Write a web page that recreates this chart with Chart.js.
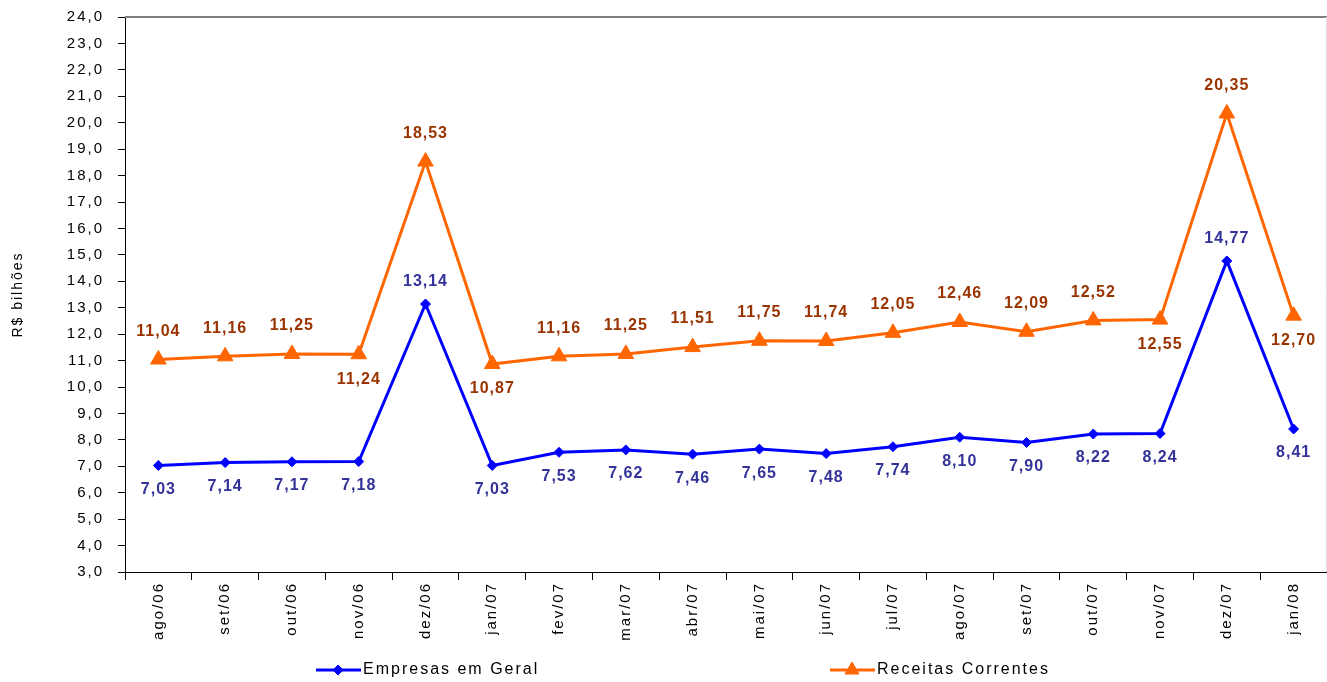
<!DOCTYPE html>
<html>
<head>
<meta charset="utf-8">
<script src="https://cdn.jsdelivr.net/npm/chart.js@4/dist/chart.umd.min.js"></script>
<style>
  html, body { margin: 0; padding: 0; background: #fff; }
  #wrap { width: 1327px; height: 682px; position: relative; }
</style>
</head>
<body>
<div id="wrap"><canvas id="c"></canvas></div>
<script>
// Monthly revenue series, R$ bilhões
const meses = ['ago/06','set/06','out/06','nov/06','dez/06','jan/07','fev/07','mar/07','abr/07','mai/07','jun/07','jul/07','ago/07','set/07','out/07','nov/07','dez/07','jan/08'];
const empresasEmGeral = [7.03, 7.14, 7.17, 7.18, 13.14, 7.03, 7.53, 7.62, 7.46, 7.65, 7.48, 7.74, 8.10, 7.90, 8.22, 8.24, 14.77, 8.41];
const receitasCorrentes = [11.04, 11.16, 11.25, 11.24, 18.53, 10.87, 11.16, 11.25, 11.51, 11.75, 11.74, 12.05, 12.46, 12.09, 12.52, 12.55, 20.35, 12.70];
// Which side of the point each value label sits on
const ladoEmpresas = ['b','b','b','b','a','b','b','b','b','b','b','b','b','b','b','b','a','b'];
const ladoReceitas = ['a','a','a','b','a','b','a','a','a','a','a','a','a','a','a','b','a','b'];
const yMin = 3, yMax = 24;

const FONT = '"Liberation Sans", Arial, sans-serif';
const fmt = (v, d) => v.toFixed(d).replace('.', ',');
const setSpacing = (ctx, s) => { if ('letterSpacing' in ctx) ctx.letterSpacing = s; };

// Wider letter spacing for the axis text
const axisSpacing = {
  id: 'axisSpacing',
  beforeDraw(chart) { setSpacing(chart.ctx, '2px'); },
  afterDraw(chart) { setSpacing(chart.ctx, '0px'); }
};

// Value labels drawn next to each point
const valueLabels = {
  id: 'valueLabels',
  afterDatasetsDraw(chart) {
    const ctx = chart.ctx;
    ctx.save();
    ctx.font = 'bold 16px ' + FONT;
    ctx.textAlign = 'center';
    ctx.textBaseline = 'middle';
    setSpacing(ctx, '1px');
    chart.data.datasets.forEach((ds, i) => {
      const meta = chart.getDatasetMeta(i);
      ctx.fillStyle = ds.labelColor;
      meta.data.forEach((pt, j) => {
        const dy = ds.labelSides[j] === 'a' ? -ds.labelAbove : ds.labelBelow;
        ctx.fillText(fmt(ds.data[j], 2), pt.x, pt.y + dy);
      });
    });
    ctx.restore();
  }
};

// Grey top edge and faint right edge of the plot area
const frame = {
  id: 'frame',
  afterDraw(chart) {
    const { ctx, chartArea: a } = chart;
    ctx.save();
    ctx.strokeStyle = '#808080';
    ctx.lineWidth = 2;
    ctx.beginPath();
    ctx.moveTo(a.left, a.top);
    ctx.lineTo(a.right, a.top);
    ctx.stroke();
    ctx.strokeStyle = '#e0e0e0';
    ctx.lineWidth = 1;
    ctx.beginPath();
    ctx.moveTo(a.right - 0.5, a.top);
    ctx.lineTo(a.right - 0.5, a.bottom);
    ctx.stroke();
    ctx.restore();
  }
};

// Legend along the bottom, items spread apart
const bottomLegend = {
  id: 'bottomLegend',
  afterDraw(chart) {
    const ctx = chart.ctx;
    const y = 670;
    const items = [
      { x: 316, ds: chart.data.datasets[0] },
      { x: 830, ds: chart.data.datasets[1] }
    ];
    ctx.save();
    items.forEach(it => {
      ctx.strokeStyle = it.ds.borderColor;
      ctx.lineWidth = 3;
      ctx.beginPath();
      ctx.moveTo(it.x, y);
      ctx.lineTo(it.x + 45, y);
      ctx.stroke();
      ctx.fillStyle = it.ds.pointBackgroundColor;
      ctx.strokeStyle = it.ds.pointBorderColor;
      ctx.lineWidth = 1;
      Chart.helpers.drawPoint(ctx, {
        pointStyle: it.ds.pointStyle,
        radius: it.ds.pointStyle === 'triangle' ? 8 : 5,
        rotation: 0,
        borderWidth: 1
      }, it.x + 22, y);
      ctx.fillStyle = '#000';
      ctx.font = '16px ' + FONT;
      ctx.textAlign = 'left';
      ctx.textBaseline = 'middle';
      setSpacing(ctx, '2px');
      ctx.fillText(it.ds.label, it.x + 47, y);
    });
    ctx.restore();
  }
};

new Chart(document.getElementById('c'), {
  type: 'line',
  data: {
    labels: meses,
    datasets: [
      {
        label: 'Empresas em Geral',
        data: empresasEmGeral,
        borderColor: '#0000FF',
        backgroundColor: '#0000FF',
        borderWidth: 3,
        pointStyle: 'rectRot',
        pointRadius: 5,
        pointHoverRadius: 5,
        pointBackgroundColor: '#0000FF',
        pointBorderColor: '#0000FF',
        pointBorderWidth: 1,
        tension: 0,
        labelSides: ladoEmpresas,
        labelColor: '#333399',
        labelAbove: 22,
        labelBelow: 24
      },
      {
        label: 'Receitas Correntes',
        data: receitasCorrentes,
        borderColor: '#FF6600',
        backgroundColor: '#FF6600',
        borderWidth: 3,
        pointStyle: 'triangle',
        pointRadius: 9,
        pointHoverRadius: 9,
        pointBackgroundColor: '#FF6600',
        pointBorderColor: '#FF6600',
        pointBorderWidth: 1,
        tension: 0,
        labelSides: ladoReceitas,
        labelColor: '#993300',
        labelAbove: 28,
        labelBelow: 25
      }
    ]
  },
  options: {
    responsive: true,
    maintainAspectRatio: false,
    animation: false,
    events: [],
    layout: { autoPadding: false, padding: { top: 17, right: 0, bottom: 0, left: 0 } },
    plugins: {
      legend: { display: false },
      tooltip: { enabled: false }
    },
    scales: {
      x: {
        offset: true,
        grid: {
          offset: true,
          drawOnChartArea: false,
          drawTicks: true,
          tickLength: 8,
          color: '#000'
        },
        border: { color: '#000', width: 1 },
        ticks: {
          color: '#000',
          font: { family: FONT, size: 15 },
          maxRotation: 90,
          minRotation: 90,
          padding: 2,
          autoSkip: false
        },
        afterFit(scale) {
          scale.height = 110;
          scale.paddingLeft = 0;
          scale.paddingRight = 0;
        }
      },
      y: {
        min: yMin,
        max: yMax,
        grid: {
          drawOnChartArea: false,
          drawTicks: true,
          tickLength: 7,
          color: '#000'
        },
        border: { color: '#000', width: 1 },
        ticks: {
          stepSize: 1,
          color: '#000',
          font: { family: FONT, size: 15 },
          padding: 14,
          callback: v => fmt(v, 1)
        },
        title: {
          display: true,
          text: 'R$ bilhões',
          color: '#000',
          font: { family: FONT, size: 14 },
          padding: { top: 10, bottom: 0 }
        },
        afterFit(scale) {
          scale.width = 125;
          scale.paddingTop = 0;
          scale.paddingBottom = 0;
        }
      }
    }
  },
  plugins: [axisSpacing, valueLabels, frame, bottomLegend]
});
</script>
</body>
</html>
